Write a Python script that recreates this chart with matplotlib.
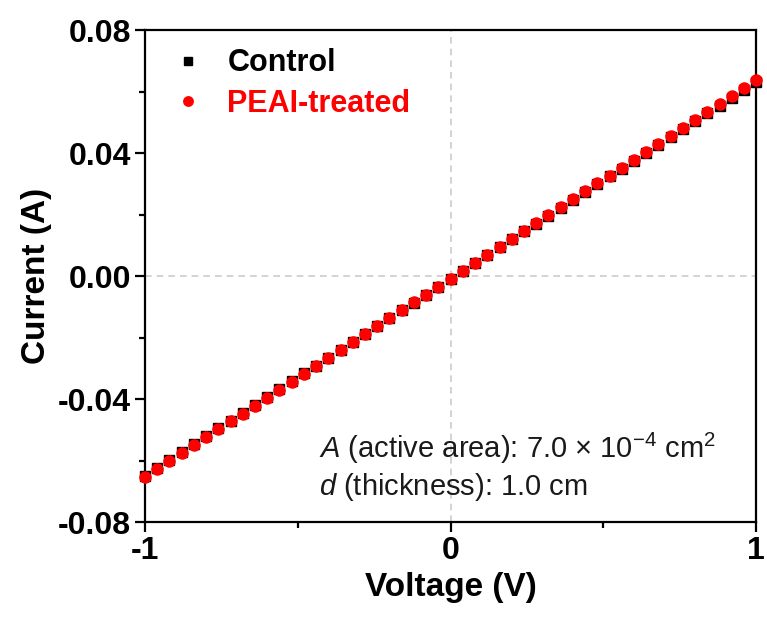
import matplotlib
matplotlib.use("Agg")
import matplotlib.pyplot as plt
from matplotlib.ticker import MultipleLocator

# ── Data ─────────────────────────────────────────────────────────────────────
VOLTAGE = [-1.00, -0.96, -0.92, -0.88, -0.84, -0.80, -0.76, -0.72, -0.68, -0.64,
           -0.60, -0.56, -0.52, -0.48, -0.44, -0.40, -0.36, -0.32, -0.28, -0.24,
           -0.20, -0.16, -0.12, -0.08, -0.04, 0.00, 0.04, 0.08, 0.12, 0.16,
           0.20, 0.24, 0.28, 0.32, 0.36, 0.40, 0.44, 0.48, 0.52, 0.56,
           0.60, 0.64, 0.68, 0.72, 0.76, 0.80, 0.84, 0.88, 0.92, 0.96, 1.00]

CONTROL = [-0.0649, -0.0623, -0.0598, -0.0572, -0.0547, -0.0521, -0.0495, -0.0470,
           -0.0444, -0.0419, -0.0393, -0.0367, -0.0342, -0.0316, -0.0291, -0.0265,
           -0.0239, -0.0214, -0.0188, -0.0163, -0.0137, -0.0111, -0.0086, -0.0060,
           -0.0035, -0.0009, 0.0017, 0.0042, 0.0068, 0.0093, 0.0119, 0.0145,
           0.0170, 0.0196, 0.0221, 0.0247, 0.0273, 0.0298, 0.0324, 0.0349,
           0.0375, 0.0401, 0.0426, 0.0452, 0.0477, 0.0503, 0.0529, 0.0554,
           0.0580, 0.0605, 0.0631]

PEAI = [-0.0653, -0.0627, -0.0601, -0.0576, -0.0550, -0.0524, -0.0498, -0.0472,
        -0.0447, -0.0421, -0.0395, -0.0369, -0.0343, -0.0318, -0.0292, -0.0266,
        -0.0240, -0.0214, -0.0189, -0.0163, -0.0137, -0.0111, -0.0085, -0.0060,
        -0.0034, -0.0008, 0.0018, 0.0044, 0.0069, 0.0095, 0.0121, 0.0147,
        0.0173, 0.0198, 0.0224, 0.0250, 0.0276, 0.0302, 0.0327, 0.0353,
        0.0379, 0.0405, 0.0431, 0.0456, 0.0482, 0.0508, 0.0534, 0.0560,
        0.0585, 0.0611, 0.0637]

X_TICKS = [-1, 0, 1]
Y_TICKS = [-0.08, -0.04, 0.00, 0.04, 0.08]

FONT = "Liberation Sans"
plt.rcParams["font.family"] = [FONT, "DejaVu Sans"]
plt.rcParams["mathtext.fontset"] = "custom"
plt.rcParams["mathtext.rm"] = FONT
plt.rcParams["mathtext.it"] = FONT + ":italic"

# ── Figure ───────────────────────────────────────────────────────────────────
fig = plt.figure(figsize=(7.67, 6.26), dpi=100)
ax = fig.add_axes([0.189, 0.166, 0.797, 0.786])

ax.axhline(0, color="#cccccc", lw=1.2, ls=(0, (4, 3)), zorder=0)
ax.axvline(0, color="#cccccc", lw=1.2, ls=(0, (4, 3)), zorder=0)

ax.plot(VOLTAGE, CONTROL, ls="none", marker="s", ms=6.5, color="black",
        label="Control", clip_on=False, zorder=3)
ax.plot(VOLTAGE, PEAI, ls="none", marker="o", ms=8, color="#ff0000",
        mec="#ff0000", label="PEAI-treated", clip_on=False, zorder=4)

ax.set_xlim(-1, 1)
ax.set_ylim(-0.08, 0.08)
ax.set_xticks(X_TICKS)
ax.set_xticklabels([f"{t:g}" for t in X_TICKS])
ax.set_yticks(Y_TICKS)
ax.set_yticklabels([f"{t:.2f}" for t in Y_TICKS])
ax.xaxis.set_minor_locator(MultipleLocator(0.5))
ax.yaxis.set_minor_locator(MultipleLocator(0.02))

for s in ax.spines.values():
    s.set_linewidth(1.6)
ax.tick_params(which="major", direction="out", length=7, width=1.6,
               labelsize=23, pad=3)
ax.tick_params(which="minor", direction="out", length=4.5, width=1.6)
for lbl in ax.get_xticklabels() + ax.get_yticklabels():
    lbl.set_fontweight("bold")

ax.set_xlabel("Voltage (V)", fontsize=24, fontweight="bold", labelpad=4)
ax.set_ylabel("Current (A)", fontsize=24, fontweight="bold", labelpad=4)

leg = ax.legend(loc="upper left", frameon=False,
                handletextpad=0.5, borderaxespad=0.2, labelspacing=0.35,
                markerscale=0.85, handlelength=1.6,
                prop={"weight": "bold", "size": 22},
                bbox_to_anchor=(0.0, 1.0))
for txt, col in zip(leg.get_texts(), ["black", "#ff0000"]):
    txt.set_color(col)

ax.text(0.285, 0.13, r"$\it{A}$ (active area): 7.0 $\times$ 10$^{-4}$ cm$^{2}$",
        transform=ax.transAxes, fontsize=21, color="#1a1a1a", ha="left")
ax.text(0.285, 0.055, r"$\it{d}$ (thickness): 1.0 cm",
        transform=ax.transAxes, fontsize=21, color="#1a1a1a", ha="left")

fig.savefig("out.png", dpi=100, facecolor="white")
